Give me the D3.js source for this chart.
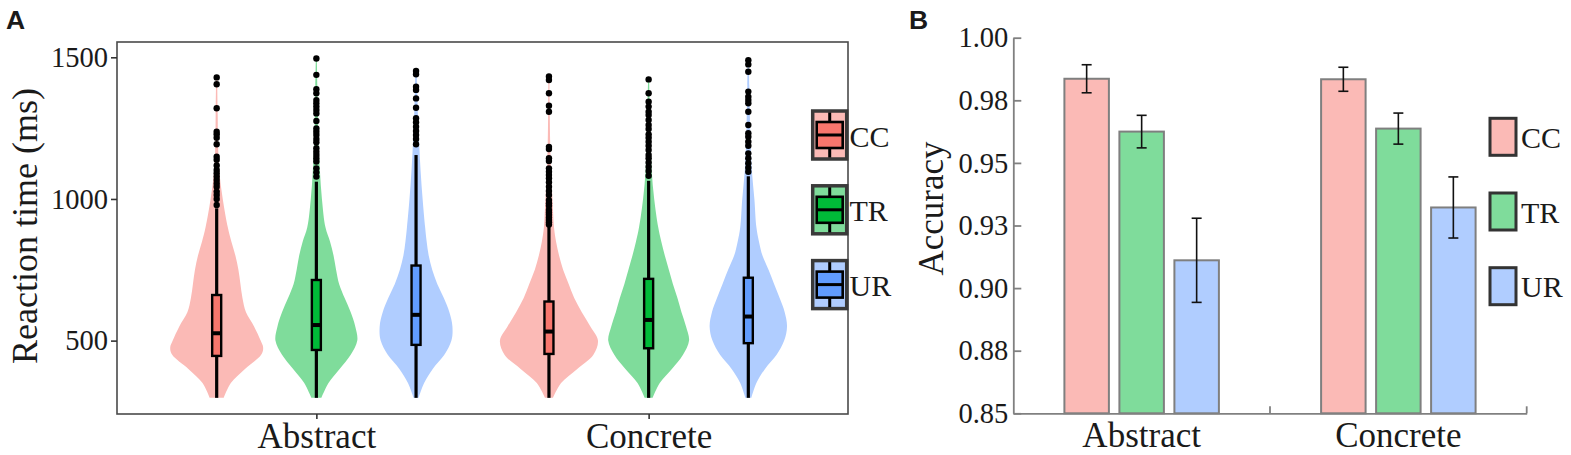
<!DOCTYPE html>
<html>
<head>
<meta charset="utf-8">
<script src="https://cdn.jsdelivr.net/npm/d3@7"></script>
<style>
  html, body { margin: 0; padding: 0; background: #fff; }
  svg { display: block; }
  text { font-family: 'Liberation Serif', 'Times New Roman', serif; fill: #1a1a1a; }
</style>
</head>
<body>
<svg id="chart" width="1571" height="455"></svg>
<script>
// ---------------- DATA ----------------
const categories = ["Abstract", "Concrete"];
const conditions = ["CC", "TR", "UR"];
const rtTicks = [500, 1000, 1500];
const accTicks = [0.85, 0.875, 0.9, 0.925, 0.95, 0.975, 1.0];
const accTickLabels = ["0.85", "0.88", "0.90", "0.93", "0.95", "0.98", "1.00"];

// Violin density profiles: [reaction time (ms), relative density]
const densAbstractCC = [[298,7],[350,14],[400,28],[450,44],[475,46],[500,43.5],[550,37],[600,29],[650,25.5],[700,23.5],[750,21.5],[800,18.5],[850,14.5],[900,11],[1000,6],[1100,2.5],[1200,1.3],[1300,1],[1430,0.5]];
const densAbstractTR = [[298,5],[350,12],[400,23],[450,34],[500,40.5],[550,38.5],[600,34],[650,28],[700,22.5],[750,19.5],[800,17],[850,13.5],[900,9],[1000,5.5],[1100,3.5],[1200,2],[1300,1.5],[1400,1],[1497,0.5]];
const densAbstractUR = [[298,2.5],[350,8],[400,16.5],[450,28],[500,35],[550,36],[600,33],[650,27.5],[700,21],[750,16],[800,12.5],[850,10.5],[900,9],[1000,6.5],[1100,4.5],[1200,3],[1300,1.8],[1400,1],[1453,0.5]];
const densConcreteCC = [[298,4],[350,12],[400,28],[450,44],[500,48.5],[550,41],[600,32.5],[650,25],[700,19.5],[750,14],[800,10],[850,7],[900,5],[1000,3.5],[1100,2],[1200,1.2],[1300,0.8],[1433,0.5]];
const densConcreteTR = [[298,4],[350,11],[400,23],[450,34],[500,40],[550,37],[600,32.5],[650,28.5],[700,24],[750,20],[800,16],[850,12.5],[900,9.5],[1000,5.5],[1100,3],[1200,2],[1300,1.3],[1423,0.5]];
const densConcreteUR = [[298,3],[350,8],[400,16.5],[450,28],[500,35.5],[550,38.3],[600,36],[650,31],[700,25.5],[750,20],[800,14],[850,10.5],[900,8],[1000,6],[1100,3.5],[1200,2.2],[1300,1.5],[1400,1],[1491,0.5]];

// Box statistics, order: Abstract CC, TR, UR, Concrete CC, TR, UR
const rtWhiskerLow  = [298, 298, 298, 298, 298, 298];
const rtQ1          = [446, 467, 485, 453, 473, 491];
const rtMedian      = [526, 555, 591, 532, 573, 585];
const rtQ3          = [661, 714, 765, 638, 718, 722];
const rtWhiskerHigh = [967, 1061, 1155, 902, 1064, 1080];

// Outliers (ms)
const outAbstractCC = [1429,1405,1320,1237,1228,1216,1193,1149,1138,1118,1102,1091,1079,1067,1055,1043,1026,1014,1000,979];
const outAbstractTR = [1496,1438,1387,1373,1349,1338,1326,1314,1302,1275,1249,1237,1226,1212,1200,1179,1167,1155,1144,1132,1108,1094,1079];
const outAbstractUR = [1452,1440,1396,1385,1355,1322,1285,1271,1255,1240,1226,1212,1193];
const outConcreteCC = [1432,1420,1373,1329,1308,1184,1176,1144,1134,1108,1096,1085,1073,1059,1043,1028,1014,996,985,976,961,952,944,935,926,918,910];
const outConcreteTR = [1422,1373,1343,1326,1308,1296,1279,1261,1247,1228,1216,1202,1188,1173,1155,1144,1129,1114,1099,1082];
const outConcreteUR = [1490,1475,1449,1379,1361,1349,1338,1308,1261,1232,1220,1202,1188,1161,1144,1126,1110,1096];

// Accuracy means and standard errors
const accAbstract = [0.9836, 0.9625, 0.9111];
const seAbstract  = [0.0056, 0.0065, 0.0168];
const accConcrete = [0.9834, 0.9637, 0.9322];
const seConcrete  = [0.0048, 0.0062, 0.0122];

// ---------------- STYLE ----------------
const SERIF = "'Liberation Serif', 'Times New Roman', serif";
const SANS = "'Liberation Sans', Arial, sans-serif";
const lightColors = { CC: "#FBBAB6", TR: "#7FDC9B", UR: "#B0CDFF" };
const fullColors  = { CC: "#F8766D", TR: "#00BA38", UR: "#619CFF" };

const svg = d3.select("#chart");

// ================= PANEL A =================
const A = { left: 117, right: 848, top: 42, bottom: 414 };
const yA = d3.scaleLinear().domain([241, 1554]).range([A.bottom, A.top]);
const xA = d3.scalePoint().domain(categories).range([A.left, A.right]).padding(0.6);
const dodgeA = d3.scalePoint().domain(conditions).range([-xA.step() * 0.3, xA.step() * 0.3]);

const densities = [densAbstractCC, densAbstractTR, densAbstractUR, densConcreteCC, densConcreteTR, densConcreteUR];
const outliers = [outAbstractCC, outAbstractTR, outAbstractUR, outConcreteCC, outConcreteTR, outConcreteUR];
const maxDens = d3.max(densities, d => d3.max(d, p => p[1]));
const wA = d3.scaleLinear().domain([0, maxDens]).range([0, xA.step() * 0.1475]);

const violins = [];
categories.forEach((cat, ci) => conditions.forEach((cond, k) => {
  const i = ci * 3 + k;
  violins.push({ cat, cond, i, cx: xA(cat) + dodgeA(cond) });
}));

const gA = svg.append("g");

// frame
gA.append("rect")
  .attr("x", A.left).attr("y", A.top)
  .attr("width", A.right - A.left).attr("height", A.bottom - A.top)
  .attr("fill", "none").attr("stroke", "#4a4a4a").attr("stroke-width", 1.6);

const area = d3.area()
  .curve(d3.curveCatmullRom.alpha(0.5))
  .y(p => yA(p[0]));

violins.forEach(v => {
  const g = gA.append("g");
  g.append("path")
    .datum(densities[v.i])
    .attr("d", area.x0(p => v.cx - wA(p[1])).x1(p => v.cx + wA(p[1])))
    .attr("fill", lightColors[v.cond]);
  g.append("line")
    .attr("x1", v.cx).attr("x2", v.cx)
    .attr("y1", yA(rtWhiskerLow[v.i])).attr("y2", yA(rtWhiskerHigh[v.i]))
    .attr("stroke", "#000").attr("stroke-width", 3.2);
  const bw = 9;
  g.append("rect")
    .attr("x", v.cx - bw / 2).attr("width", bw)
    .attr("y", yA(rtQ3[v.i])).attr("height", yA(rtQ1[v.i]) - yA(rtQ3[v.i]))
    .attr("fill", fullColors[v.cond]).attr("stroke", "#000").attr("stroke-width", 2.4);
  g.append("line")
    .attr("x1", v.cx - bw / 2).attr("x2", v.cx + bw / 2)
    .attr("y1", yA(rtMedian[v.i])).attr("y2", yA(rtMedian[v.i]))
    .attr("stroke", "#000").attr("stroke-width", 4);
  g.selectAll("circle").data(outliers[v.i]).join("circle")
    .attr("cx", v.cx).attr("cy", d => yA(d)).attr("r", 3.2).attr("fill", "#000");
});

// y axis A
const yAxisA = gA.append("g").attr("transform", `translate(${A.left},0)`)
  .call(d3.axisLeft(yA).tickValues(rtTicks).tickSize(6).tickPadding(3).tickFormat(d3.format("d")));
yAxisA.select(".domain").remove();
yAxisA.selectAll(".tick line").attr("stroke", "#333").attr("stroke-width", 1.6);
yAxisA.selectAll(".tick text").style("font-family", SERIF).style("font-size", "28.5px").style("fill", "#1a1a1a");

// x axis A
const xAxisA = gA.append("g").attr("transform", `translate(0,${A.bottom})`)
  .call(d3.axisBottom(xA).tickSize(5).tickSizeOuter(0));
xAxisA.select(".domain").remove();
xAxisA.selectAll(".tick line").attr("stroke", "#333").attr("stroke-width", 1.6);
xAxisA.selectAll(".tick text").style("font-family", SERIF).style("font-size", "35px")
  .style("fill", "#1a1a1a").attr("y", 34).attr("dy", 0);

// y title A
gA.append("text")
  .attr("transform", `translate(37,226) rotate(-90)`)
  .attr("text-anchor", "middle").style("font-family", SERIF).style("font-size", "36px")
  .text("Reaction time (ms)");

// legend A
conditions.forEach((cond, k) => {
  const x0 = 812.7, y0 = 111 + k * 74.8, w = 34, h = 48;
  const g = gA.append("g");
  g.append("rect").attr("x", x0).attr("y", y0).attr("width", w).attr("height", h)
    .attr("fill", lightColors[cond]).attr("stroke", "#3a3a3a").attr("stroke-width", 3.5);
  g.append("line").attr("x1", x0 + w / 2).attr("x2", x0 + w / 2)
    .attr("y1", y0 + 1.5).attr("y2", y0 + h - 1.5).attr("stroke", "#000").attr("stroke-width", 3);
  g.append("rect").attr("x", x0 + 4).attr("y", y0 + 11).attr("width", w - 8).attr("height", 26)
    .attr("fill", fullColors[cond]).attr("stroke", "#000").attr("stroke-width", 2.6);
  g.append("line").attr("x1", x0 + 4).attr("x2", x0 + w - 4)
    .attr("y1", y0 + h / 2).attr("y2", y0 + h / 2).attr("stroke", "#000").attr("stroke-width", 3);
  g.append("text").attr("x", 849.5).attr("y", y0 + h / 2 + 11.5)
    .style("font-family", SERIF).style("font-size", "30px").text(cond);
});

// panel label A
svg.append("text").attr("x", 6).attr("y", 28.5)
  .style("font-family", SANS).style("font-weight", "bold").style("font-size", "26.5px").text("A");

// ================= PANEL B =================
const B = { left: 1013.3, right: 1526.7, top: 37.7, bottom: 413.3 };
const yB = d3.scaleLinear().domain([0.85, 1.0]).range([B.bottom, B.top]);
const xB = d3.scaleBand().domain(categories).range([B.left, B.right]);
const groupW = 165;
const xBi = d3.scaleBand().domain(conditions).range([0, groupW]).paddingInner(0.191).paddingOuter(0.0955);

const gB = svg.append("g");
const accData = [accAbstract, accConcrete];
const seData = [seAbstract, seConcrete];

categories.forEach((cat, ci) => {
  const gx = xB(cat) + (xB.bandwidth() - groupW) / 2;
  conditions.forEach((cond, k) => {
    const m = accData[ci][k], se = seData[ci][k];
    const bx = gx + xBi(cond);
    gB.append("rect")
      .attr("x", bx).attr("width", xBi.bandwidth())
      .attr("y", yB(m)).attr("height", yB(0.85) - yB(m))
      .attr("fill", lightColors[cond]).attr("stroke", "#7f7f7f").attr("stroke-width", 2);
    const cx = bx + xBi.bandwidth() / 2;
    const eg = gB.append("g").attr("stroke", "#111").attr("stroke-width", 1.6);
    eg.append("line").attr("x1", cx).attr("x2", cx).attr("y1", yB(m - se)).attr("y2", yB(m + se));
    eg.append("line").attr("x1", cx - 5).attr("x2", cx + 5).attr("y1", yB(m - se)).attr("y2", yB(m - se));
    eg.append("line").attr("x1", cx - 5).attr("x2", cx + 5).attr("y1", yB(m + se)).attr("y2", yB(m + se));
  });
});

// y axis B
const yAxisB = gB.append("g").attr("transform", `translate(${B.left},0)`)
  .call(d3.axisLeft(yB).tickValues(accTicks).tickSizeInner(-8).tickSizeOuter(0).tickPadding(5)
    .tickFormat((d, i) => accTickLabels[i]));
yAxisB.select(".domain").attr("stroke", "#808080").attr("stroke-width", 1.8);
yAxisB.selectAll(".tick line").attr("stroke", "#808080").attr("stroke-width", 1.8);
yAxisB.selectAll(".tick text").style("font-family", SERIF).style("font-size", "28.5px").style("fill", "#1a1a1a");

// x axis B
const xAxisB = gB.append("g").attr("transform", `translate(0,${B.bottom})`)
  .call(d3.axisBottom(xB).tickSize(0).tickSizeOuter(0));
xAxisB.select(".domain").attr("stroke", "#808080").attr("stroke-width", 1.8);
xAxisB.selectAll(".tick text").style("font-family", SERIF).style("font-size", "35px")
  .style("fill", "#1a1a1a").attr("y", 33.5).attr("dy", 0);
const bounds = categories.slice(1).map(c => xB(c)).concat([xB.range()[1]]);
xAxisB.selectAll(".bnd").data(bounds).join("line").attr("class", "bnd")
  .attr("x1", d => d).attr("x2", d => d).attr("y1", 0).attr("y2", -7)
  .attr("stroke", "#808080").attr("stroke-width", 1.8);

// y title B
gB.append("text")
  .attr("transform", `translate(943,208.5) rotate(-90)`)
  .attr("text-anchor", "middle").style("font-family", SERIF).style("font-size", "35px")
  .text("Accuracy");

// legend B
conditions.forEach((cond, k) => {
  const x0 = 1490, y0 = 118.3 + k * 74.7, w = 26, h = 37;
  gB.append("rect").attr("x", x0).attr("y", y0).attr("width", w).attr("height", h)
    .attr("fill", lightColors[cond]).attr("stroke", "#333").attr("stroke-width", 3);
  gB.append("text").attr("x", 1521).attr("y", y0 + h / 2 + 11)
    .style("font-family", SERIF).style("font-size", "30px").text(cond);
});

// panel label B
svg.append("text").attr("x", 909).attr("y", 28.5)
  .style("font-family", SANS).style("font-weight", "bold").style("font-size", "26.5px").text("B");
</script>
</body>
</html>
